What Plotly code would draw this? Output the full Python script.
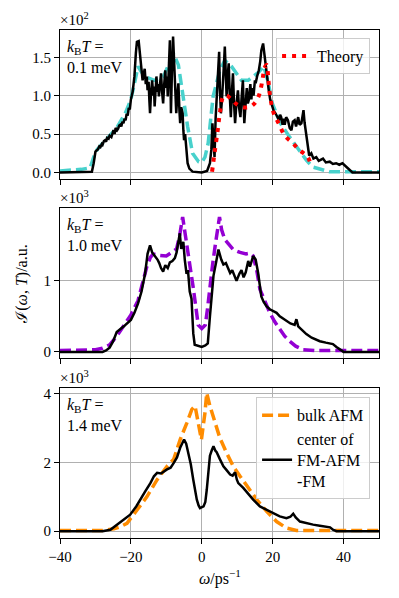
import plotly.graph_objects as go

# ---------------------------------------------------------------- data
# panel 1 : k_B T = 0.1 meV   (values in units of 1e2)
P1_BLACK_X = [-40, -31, -30.5, -30, -29.6, -29.3, -28.9, -28.6, -28.2, -28, -27.6, -27.3, -27.0,
              -26.7, -26.3, -26, -25.5, -25.2, -24.9, -24.6, -24.3, -23.9, -23.6, -23.3, -23,
              -22.7, -22.4, -22.1, -21.8, -21.5, -21.2, -20.9, -20.6, -20.3, -20, -19.5, -19,
              -18.6, -18.3, -17.8, -17.5, -17.3, -17.0, -16.7, -16.4, -16.1, -15.8, -15.5,
              -15.3, -15.0, -14.8, -14.6, -14.3, -14.0, -13.7, -13.5, -13.3, -13.0, -12.8,
              -12.5, -12.3, -12.1, -11.8, -11.5, -11.2, -10.9, -10.6, -10.3, -10.0, -9.8, -9.6,
              -9.3, -9.0, -8.8, -8.7, -8.4, -8.1, -7.9, -7.8, -7.5, -7.2, -6.9, -6.6, -6.3,
              -6.1, -5.8, -5.4, -5.2, -5.0, -4.7, -4.4, -4.0, -3.5, -2.6, 0, 1.5, 2.3, 2.7,
              3.0, 3.3, 3.6, 3.9, 4.2, 4.5, 4.9, 5.1, 5.4, 5.7, 6.1, 6.3, 6.5, 6.8, 7.0, 7.3,
              7.6, 7.9, 8.2, 8.5, 8.8, 9.1, 9.4, 9.7, 10.0, 10.2, 10.5, 10.9, 11.2, 11.6, 11.8,
              12.0, 12.3, 12.7, 13.0, 13.3, 13.7, 14.0, 14.2, 14.6, 15.0, 15.2, 15.6, 16.1,
              16.5, 16.8, 17.3, 17.6, 17.9, 18.3, 18.9, 19.3, 19.9, 20.3, 20.8, 21.3, 21.8,
              22.1, 22.4, 22.8, 23.1, 23.4, 23.8, 24.3, 24.8, 25.3, 25.7, 26.2, 26.6, 27.2,
              27.6, 28.1, 28.4, 28.7, 29.0, 29.3, 29.6, 29.9, 30.3, 30.9, 31.5, 32.3, 33.0,
              34.2, 35.0, 36.1, 37.0, 37.9, 38.8, 39.7, 40.6, 41.6, 42.5, 50]
P1_BLACK_Y = [0, 0.01, 0.12, 0.27, 0.29, 0.30, 0.34, 0.33, 0.37, 0.36, 0.41, 0.42, 0.40,
              0.45, 0.44, 0.48, 0.46, 0.52, 0.55, 0.50, 0.58, 0.55, 0.57, 0.61, 0.62,
              0.60, 0.66, 0.64, 0.70, 0.68, 0.76, 0.74, 0.84, 0.82, 0.95, 1.05, 1.25,
              1.55, 1.70, 1.71, 1.55, 1.42, 1.30, 1.20, 1.28, 1.35, 1.15, 1.25,
              1.07, 1.18, 0.95, 0.77, 1.05, 1.20, 1.00, 1.12, 0.86, 1.10, 1.25,
              1.05, 1.15, 0.99, 1.18, 1.29, 1.05, 0.90, 1.15, 1.33, 1.10, 1.25, 0.99,
              1.30, 1.72, 1.10, 0.77, 1.35, 1.77, 1.55, 1.42, 1.05, 0.77, 1.00, 1.16, 0.80,
              0.64, 0.85, 0.77, 0.55, 0.42, 0.50, 0.29, 0.12, 0.05, 0.01, 0.0, 0.02, 0.12, 0.30,
              0.64, 0.35, 0.20, 0.70, 0.99, 1.25, 1.57, 1.10, 0.77, 0.95, 1.20, 1.45, 1.64, 1.20, 0.99, 1.25,
              1.42, 1.00, 0.72, 1.05, 1.29, 0.90, 0.64, 0.85, 1.00, 1.07, 0.85, 0.72, 0.95, 1.20, 0.90,
              0.64, 0.85, 1.10, 0.90, 0.95, 1.15, 0.95, 1.10, 1.00, 1.20, 1.16, 1.25, 1.33,
              1.45, 1.59, 1.68, 1.55, 1.42, 1.25, 1.07, 0.95, 0.86, 0.80, 0.77, 0.72, 0.68,
              0.75, 0.72, 0.62, 0.70, 0.62, 0.72, 0.68, 0.58, 0.55, 0.66, 0.68, 0.60, 0.72,
              0.62, 0.64, 0.75, 0.81, 0.65, 0.55, 0.40, 0.29, 0.22, 0.25, 0.18, 0.20, 0.15,
              0.18, 0.13, 0.14, 0.11, 0.12, 0.10, 0.12, 0.08, 0.03, 0.0, 0.0]
P1_CYAN_X = [-40, -34, -31.5, -30.5, -29.5, -27, -24, -21.6, -20, -18.8, -18, -16.2, -13.4,
             -10.8, -9, -8, -6.6, -5.3, -4.0, -2.6, -0.9, 0, 0.9, 1.8, 3.2, 5.1, 6.5, 8.4,
             11.2, 13.1, 15.9, 17.5, 18.6, 19.9, 22.2, 24.8, 27.6, 29.5, 31.3, 34.2, 36, 50]
P1_CYAN_Y = [0.02, 0.04, 0.06, 0.20, 0.30, 0.42, 0.58, 0.77, 0.95, 1.20, 1.38, 1.25, 1.20,
             1.25, 1.45, 1.55, 1.40, 0.99, 0.60, 0.25, 0.14, 0.13, 0.20, 0.38, 0.99, 1.33, 1.46, 1.38,
             1.20, 1.20, 1.30, 1.38, 1.20, 0.90, 0.64, 0.46, 0.29, 0.16, 0.07, 0.03, 0.01, 0.01]
THEORY_X = [2.9, 3.6, 4.5, 5.1, 6.1, 7.0, 8.4, 9.8, 11.6, 13.3, 14.7, 16.1, 17.1, 17.7, 18.3,
            18.8, 19.3, 20.3, 21.8, 23.4, 25.7, 27.6, 29.9, 30.9]
THEORY_Y = [0.01, 0.25, 0.55, 0.77, 0.99, 1.0, 0.95, 0.89, 0.85, 0.85, 0.89, 1.0, 1.2, 1.36, 1.40,
            1.2, 0.99, 0.77, 0.63, 0.48, 0.38, 0.29, 0.20, 0.07]

# panel 2 : k_B T = 1.0 meV   (values in units of 1e3)
P2_BLACK_X = [-40, -28, -27, -26, -25, -24, -22, -20, -19, -18, -17, -16, -15.3, -14.6, -14,
              -13.2, -12.5, -12, -11.5, -10.9, -10.3, -9.6, -9, -8.3, -7.6, -7.1, -6.6, -6.2,
              -5.8, -5.2, -4.8, -4.3, -3.9, -3.4, -2.9, -2.4, -2.0, -1, 0, 1, 1.7, 2.3, 2.8,
              3.3, 4.0, 4.7, 5.5, 6.1, 6.8, 7.5, 8.0, 8.6, 9.3, 9.8, 10.6, 11.2, 11.8, 12.4,
              13.1, 13.6, 14.5, 15.2, 15.9, 16.8, 17.5, 18.3, 19.2, 20, 21.1, 22, 23.9, 25,
              26.2, 26.7, 27.2, 28, 29.5, 31, 33.3, 35, 37, 38, 39.3, 40, 50]
P2_BLACK_Y = [0, 0, 0.02, 0.06, 0.15, 0.28, 0.36, 0.45, 0.55, 0.68, 0.85, 1.10, 1.38, 1.50, 1.40,
              1.35, 1.30, 1.25, 1.18, 1.13, 1.22, 1.18, 1.26, 1.28, 1.32, 1.40, 1.55, 1.67,
              1.45, 1.55, 1.30, 1.10, 1.15, 0.85, 0.75, 0.26, 0.10, 0.08, 0.07, 0.09, 0.12, 0.50, 0.80,
              1.07, 1.25, 1.44, 1.30, 1.23, 1.25, 1.18, 1.11, 1.15, 1.05, 1.00, 1.10, 1.15, 1.05, 1.12,
              1.28, 1.20, 1.35, 1.30, 1.11, 0.78, 0.70, 0.64, 0.60, 0.58, 0.55, 0.50, 0.43, 0.40,
              0.38, 0.46, 0.36, 0.32, 0.25, 0.20, 0.15, 0.13, 0.11, 0.07, 0.02, 0, 0]
P2_PURPLE_X = [-40, -30, -28, -26, -24, -22, -20, -18, -16.5, -15.5, -14.5, -13.7, -12, -10,
               -8.5, -7.1, -6.2, -5.4, -4.8, -4.3, -3.3, -2.4, -1.5, -1.0, 0, 1, 1.6, 2.4,
               3.1, 3.8, 5.0, 5.6, 6.5, 8.9, 10.8, 12.5, 13.6, 14.5, 15.5, 16.4, 17.8, 19.2,
               20.5, 22, 23.4, 24.8, 26.5, 28.6, 32, 50]
P2_PURPLE_Y = [0.02, 0.03, 0.05, 0.10, 0.22, 0.38, 0.52, 0.72, 1.00, 1.20, 1.33, 1.38, 1.36, 1.35,
               1.40, 1.45, 1.65, 1.90, 1.70, 1.50, 1.20, 0.90, 0.55, 0.38, 0.33, 0.38, 0.60, 1.00,
               1.25, 1.50, 1.90, 1.72, 1.58, 1.44, 1.40, 1.38, 1.39, 1.35, 1.15, 0.88, 0.70, 0.55,
               0.43, 0.32, 0.22, 0.15, 0.08, 0.03, 0.02, 0.02]

# panel 3 : k_B T = 1.4 meV   (values in units of 1e3)
P3_BLACK_X = [-40, -28, -25.8, -23.9, -22, -20.2, -18.5, -17.4, -16, -14.5, -13.5, -12.6, -11.5,
              -9.8, -8.8, -7.9, -7, -6.1, -5.0, -4.4, -3.8, -3.1, -2.4, -1.9, -1.4, -0.9, -0.5,
              0.5, 1.0, 1.4, 1.9, 2.3, 2.8, 3.3, 3.8, 4.2, 5.1, 6.1, 7, 8, 8.7, 9.4, 9.9, 10.3,
              11.7, 13, 14.5, 16.4, 18, 19.2, 20.5, 22, 23.9, 25, 25.8, 26.5, 27.7, 29.5, 31.4,
              33.3, 35.2, 36.2, 37, 38, 50]
P3_BLACK_Y = [0, 0, 0.04, 0.19, 0.33, 0.48, 0.72, 0.92, 1.15, 1.40, 1.60, 1.70, 1.68,
              1.80, 1.85, 1.99, 2.15, 2.43, 2.67, 2.55, 2.28, 1.95, 1.50, 1.20, 0.92, 0.75, 0.67,
              0.72, 0.85, 1.20, 1.70, 2.20, 2.35, 2.48, 2.35, 2.30, 2.10, 1.89, 1.78, 1.65, 1.62, 1.72, 1.50, 1.40,
              1.26, 1.10, 0.92, 0.72, 0.63, 0.58, 0.50, 0.43, 0.38, 0.42, 0.51, 0.40, 0.28, 0.23, 0.19,
              0.16, 0.14, 0.11, 0.04, 0, 0]
P3_ORANGE_X = [-40, -28, -24.8, -23, -21.1, -18.3, -15.5, -12.6, -9.8, -7.9, -6.1, -4.2, -2.8,
               -1.9, -1.0, -0.1, 0.9, 1.4, 2.3, 3.7, 5.1, 7, 8.9, 10.8, 12.7, 15.5, 18.3, 21.1,
               23.9, 26.7, 30, 50]
P3_ORANGE_Y = [0.02, 0.02, 0.07, 0.13, 0.23, 0.63, 1.00, 1.50, 1.89, 2.10, 2.67, 3.16, 3.55,
               3.65, 3.16, 2.67, 3.45, 4.03, 3.65, 3.16, 2.72, 2.28, 1.89, 1.60, 1.31, 0.92, 0.58, 0.28,
               0.09, 0.02, 0.02, 0.02]

X_TICKS = [-40, -20, 0, 20, 40]
Y1_TICKS = [0.0, 0.5, 1.0, 1.5]
Y2_TICKS = [0, 1]
Y3_TICKS = [0, 2, 4]
TEMPS = ["0.1", "1.0", "1.4"]
EXPONENTS = ["2", "3", "3"]

# ---------------------------------------------------------------- figure
FONT = "Liberation Serif, DejaVu Serif, serif"
DASH = "11px,5px"

fig = go.Figure()
fig.add_trace(go.Scatter(x=P1_CYAN_X, y=P1_CYAN_Y, mode="lines", showlegend=False,
                         line=dict(color="#48D1CC", width=3.5, dash=DASH), xaxis="x", yaxis="y"))
fig.add_trace(go.Scatter(x=P1_BLACK_X, y=P1_BLACK_Y, mode="lines", showlegend=False,
                         line=dict(color="black", width=2.5), xaxis="x", yaxis="y"))
fig.add_trace(go.Scatter(x=THEORY_X, y=THEORY_Y, mode="lines", name="Theory", legend="legend",
                         line=dict(color="red", width=4, dash="4px,6px", shape="spline"),
                         xaxis="x", yaxis="y"))

fig.add_trace(go.Scatter(x=P2_PURPLE_X, y=P2_PURPLE_Y, mode="lines", showlegend=False,
                         line=dict(color="#9400D3", width=3.5, dash=DASH), xaxis="x2", yaxis="y2"))
fig.add_trace(go.Scatter(x=P2_BLACK_X, y=P2_BLACK_Y, mode="lines", showlegend=False,
                         line=dict(color="black", width=2.5), xaxis="x2", yaxis="y2"))

fig.add_trace(go.Scatter(x=P3_ORANGE_X, y=P3_ORANGE_Y, mode="lines", name="bulk AFM",
                         legend="legend2",
                         line=dict(color="#FF8C00", width=3.5, dash=DASH), xaxis="x3", yaxis="y3"))
fig.add_trace(go.Scatter(x=P3_BLACK_X, y=P3_BLACK_Y, mode="lines",
                         name="center of<br>FM-AFM<br>-FM", legend="legend2",
                         line=dict(color="black", width=2.5), xaxis="x3", yaxis="y3"))

axis_common = dict(showline=True, linecolor="black", linewidth=1, mirror=True,
                   ticks="outside", ticklen=5, tickcolor="black",
                   showgrid=True, gridcolor="#b0b0b0", gridwidth=1, zeroline=False)

domains = [[0.7065, 1.0], [0.3545, 0.6488], [0.0, 0.2943]]
yranges = [[-0.087, 1.855], [-0.085, 2.02], [-0.2, 4.16]]
yticks = [Y1_TICKS, Y2_TICKS, Y3_TICKS]
yfmt = [".1f", "d", "d"]

# the page body has an 8px margin, so the figure is shrunk to fit the window
layout = dict(width=383, height=582, plot_bgcolor="white", paper_bgcolor="white",
              margin=dict(l=52, r=12, t=22, b=52),
              font=dict(family=FONT, size=15, color="black"))
annotations = []
for i in range(3):
    s = "" if i == 0 else str(i + 1)
    layout["xaxis" + s] = dict(axis_common, range=[-40, 50], tickvals=X_TICKS,
                               showticklabels=(i == 2), anchor="y" + s, domain=[0, 1])
    layout["yaxis" + s] = dict(axis_common, range=yranges[i], tickvals=yticks[i],
                               tickformat=yfmt[i], domain=domains[i], anchor="x" + s)
    annotations.append(dict(xref=f"x{s} domain", yref=f"y{s} domain", x=0.015, y=0.96,
                            xanchor="left", yanchor="top", align="left", showarrow=False,
                            font=dict(size=16),
                            text=f"<i>k</i><sub>B</sub><i>T</i> =<br>{TEMPS[i]} meV"))
    annotations.append(dict(xref=f"x{s} domain", yref=f"y{s} domain", x=-0.005, y=1.0,
                            xanchor="left", yanchor="bottom", showarrow=False,
                            text=f"×10<sup>{EXPONENTS[i]}</sup>"))

annotations.append(dict(xref="paper", yref="paper", x=-0.12, y=0.50, textangle=-90,
                        xanchor="center", yanchor="middle", showarrow=False,
                        font=dict(size=16),
                        text="ℐ(<i>ω</i>, <i>T</i>)/a.u."))
annotations.append(dict(xref="paper", yref="paper", x=0.5, y=-0.077,
                        xanchor="center", yanchor="middle", showarrow=False,
                        font=dict(size=16),
                        text="<i>ω</i>/ps<sup>−1</sup>"))
layout["annotations"] = annotations

legend_style = dict(bgcolor="rgba(255,255,255,0.8)", bordercolor="#cccccc", borderwidth=1,
                    xanchor="right", yanchor="top", itemwidth=30, tracegroupgap=0,
                    font=dict(family=FONT, size=16))
layout["legend"] = dict(legend_style, x=0.972, y=0.984)
layout["legend2"] = dict(legend_style, x=0.972, y=0.277, valign="middle")

fig.update_layout(**layout)
fig.write_html("out.html")
